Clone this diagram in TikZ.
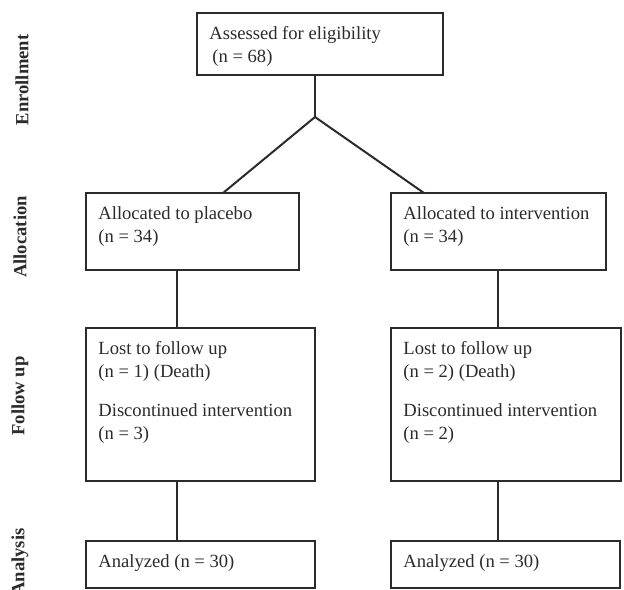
\documentclass[tikz,border=0pt]{standalone}
\usepackage{fontspec}
\setmainfont{Liberation Serif}
\usepackage{tikz}
\usetikzlibrary{positioning}
\definecolor{ink}{HTML}{2B2B2B}
\tikzstyle{box}=[draw=ink,line width=1pt,rectangle,anchor=north west,inner sep=0pt,outer sep=0pt]
\tikzstyle{boxtext}=[anchor=north west,align=left,inner sep=0pt,text=ink,
    execute at begin node=\rule{0pt}{8pt}]
\tikzstyle{phase}=[rotate=90,font=\fontsize{9.3}{11.5}\selectfont\bfseries,text=ink]
\tikzstyle{link}=[draw=ink,line width=1pt]

\begin{document}
\begin{tikzpicture}[x=0.5pt,y=-0.5pt,font=\fontsize{9.3}{11.5}\selectfont]
            \useasboundingbox (0,0) rectangle (624,589);
            % phases
            \node[phase] (enrol) at (22,80) {Enrollment};
            \node[phase] (alloc) at (20,237) {Allocation};
            \node[phase] (follow) at (20,396) {Follow up};
            \node[phase] (analys) at (20,562) {Analysis};
            % boxes
            \node[box,minimum width=123pt,minimum height=31pt] (assess) at (197,13) {};
            \node[box,minimum width=106.5pt,minimum height=38.5pt] (placebo) at (86,193) {};
            \node[box,minimum width=107.5pt,minimum height=38.5pt] (interv) at (391,193) {};
            \node[box,minimum width=114.5pt,minimum height=76.5pt] (lostp) at (86,328) {};
            \node[box,minimum width=115pt,minimum height=76.5pt] (losti) at (391,328) {};
            \node[box,minimum width=114.5pt,minimum height=23.5pt] (anap) at (86,541) {};
            \node[box,minimum width=114.5pt,minimum height=23.5pt] (anai) at (391,541) {};
            % texts
            \node[boxtext] (assesstxt) at ([shift={(12,13)}]assess.north west)
                {Assessed for eligibility\\\hspace*{1.5pt}(n = 68)};
            \node[boxtext] (placebotxt) at ([shift={(12,13)}]placebo.north west)
                {Allocated to placebo\\(n = 34)};
            \node[boxtext] (intervtxt) at ([shift={(12,13)}]interv.north west)
                {Allocated to intervention\\(n = 34)};
            \node[boxtext] (lostptxt) at ([shift={(12,13)}]lostp.north west)
                {Lost to follow up\\(n = 1) (Death)\\[8pt]Discontinued intervention\\(n = 3)};
            \node[boxtext] (lostitxt) at ([shift={(12,13)}]losti.north west)
                {Lost to follow up\\(n = 2) (Death)\\[8pt]Discontinued intervention\\(n = 2)};
            \node[boxtext] (anaptxt) at ([shift={(12,10)}]anap.north west) {Analyzed (n = 30)};
            \node[boxtext] (anaitxt) at ([shift={(12,10)}]anai.north west) {Analyzed (n = 30)};
            % connectors
            \coordinate (apex) at (315,117);
            \coordinate (forkl) at (223,193);
            \coordinate (forkr) at (424,193);
            \coordinate (coll) at (177,0);
            \coordinate (colr) at (498,0);
            \draw[link] (assess.south -| apex) -- (apex);
            \draw[link] (apex) -- (forkl |- placebo.north);
            \draw[link] (apex) -- (forkr |- interv.north);
            \draw[link] (coll |- placebo.south) -- (coll |- lostp.north);
            \draw[link] (coll |- lostp.south) -- (coll |- anap.north);
            \draw[link] (colr |- interv.south) -- (colr |- losti.north);
            \draw[link] (colr |- losti.south) -- (colr |- anai.north);
        \end{tikzpicture}
\end{document}
